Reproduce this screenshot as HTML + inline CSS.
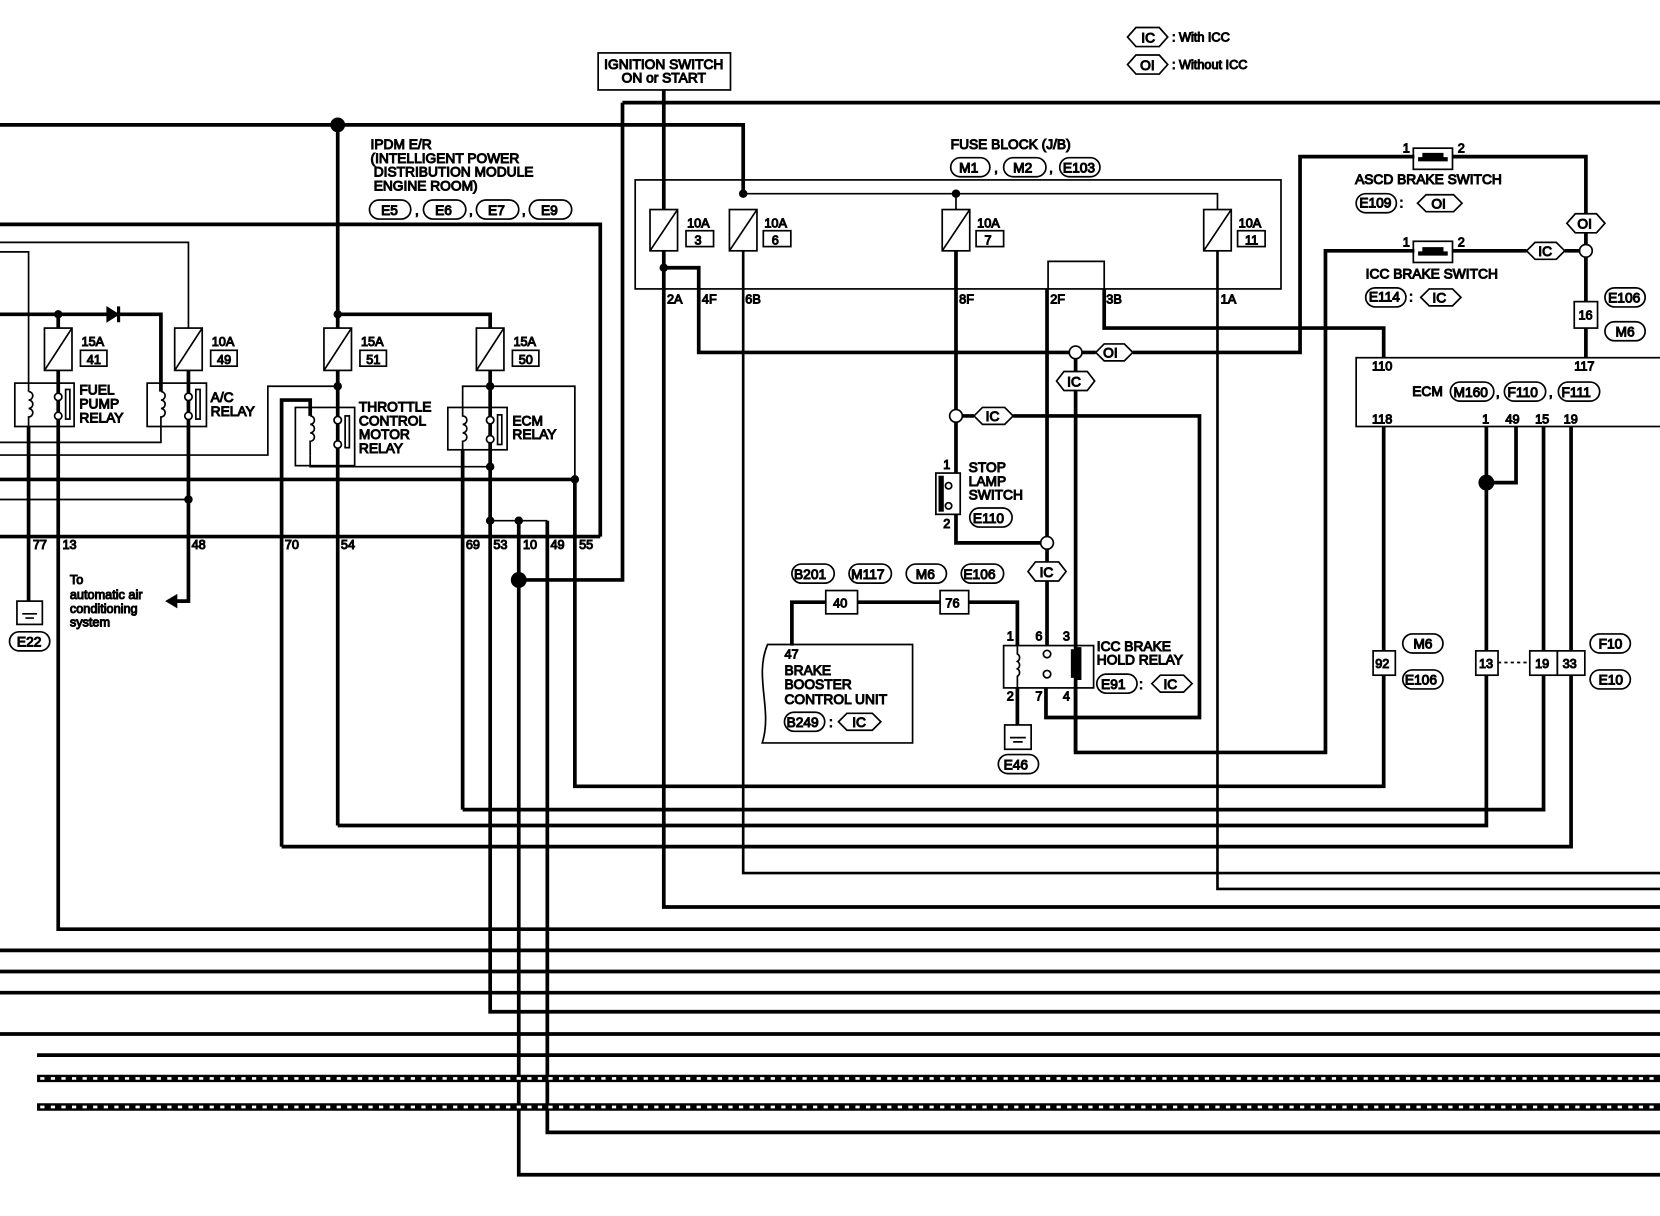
<!DOCTYPE html>
<html><head><meta charset="utf-8"><style>
html,body{margin:0;padding:0;background:#fff;}
svg{display:block;}
text{font-family:"Liberation Sans",sans-serif;font-size:13px;fill:#000;}
.sm{font-size:12px;}
</style></head><body>
<svg width="1660" height="1216" viewBox="0 0 1568 1149" preserveAspectRatio="none" xmlns="http://www.w3.org/2000/svg">
<g fill="none" stroke="#000" stroke-linejoin="miter">
<!-- thick wires -->
<g stroke-width="3.5">
<path d="M0,118 H702 V183"/>
<path d="M319,118 V310"/>
<path d="M588,97 H1568 M588,97 V548 H490"/>
<path d="M627,85 V198 M627,237 V857 H1568"/>
<path d="M627,253 H660 V333 H1010 M1022,333 H1035 M1070,333 H1228 V148 H1336 M1372,148 H1498 V202 M1498,220 V231 M1498,243 V285 M1498,310 V338"/>
<path d="M1016,339 V351 M1016,369 V711 H1252 V237 H1336 M1372,237 H1442 M1478,237 H1492"/>
<path d="M903,237 V387 M909,393 H920 M957,393 H1133 V678 H988 V650"/>
<path d="M903,399 V447 M903,486 V513 H983"/>
<path d="M989,273 V507 M989,519 V531 M989,549 V610"/>
<path d="M1043,273 V310 H1307 V338"/>
<path d="M1307,403 V615 M1307,638 V743 H543 V453"/>
<path d="M1404,403 V615 M1404,638 V780 H319"/>
<path d="M1432,403 V456 H1404"/>
<path d="M1458,403 V615 M1458,638 V765 H437"/>
<path d="M1484,403 V615 M1484,638 V800 H266"/>
<path d="M748,610 V569 H780 M810,569 H888 M915,569 H961 V610"/>
<path d="M961,650 V685"/>
<path d="M1016,650 V711"/>
<path d="M0,212 H567 V507"/>
<path d="M0,297 H152 V370"/>
<path d="M55,297 V310 M55,350 V878 H1568"/>
<path d="M27,403 V568"/>
<path d="M178,350 V568 H166"/>
<path d="M0,453 H543"/>
<path d="M319,350 V780"/>
<path d="M319,297 H463 V310 M463,350 V956 H1568"/>
<path d="M266,800 V378 H293 V393"/>
<path d="M437,425 V765"/>
<path d="M490,492 V1110 H1568 M517,492 V1070 H1568"/>
<path d="M0,898 H1568 M0,918 H1568 M0,938 H1568 M0,977 H1568 M35,997 H1568"/>
<path d="M0,507 H567"/>
</g>
<!-- dashed lines -->
<path d="M35,1019 H1568 M35,1046 H1568" stroke-width="7"/>
<path d="M38,1019 H1568 M38,1046 H1568" stroke="#fff" stroke-width="2.5" stroke-dasharray="4,6"/>
<!-- thin wires -->
<g stroke-width="1.6">
<path d="M702,183 H1150 V198 M903,183 V198"/>
<path d="M702,237 V825 H1568" stroke-width="2.5"/>
<path d="M1150,237 V840 H1568" stroke-width="2.5"/>
<path d="M990,273 V247 H1043 V273"/>
<path d="M0,229 H178 V310"/>
<path d="M0,238 H27 V370"/>
<path d="M152,403 V418 H0"/>
<path d="M0,430 H253 V365 H319"/>
<path d="M0,472 H178"/>
<path d="M437,385 V365 H543 V453"/>
<path d="M293,430 V441 H463"/>
<path d="M463,492 H517"/>
<path d="M1415,626 H1445" stroke-dasharray="3,3"/>
<rect x="600" y="170" width="610" height="103"/>
<rect x="565" y="50" width="125" height="35"/>
<rect x="1281" y="338" width="300" height="65"/>
</g>
<!-- fuses -->
<g stroke-width="1.6">
<rect x="614" y="198" width="26" height="39"/><path d="M614,237 L640,198"/>
<rect x="689" y="198" width="26" height="39"/><path d="M689,237 L715,198"/>
<rect x="890" y="198" width="26" height="39"/><path d="M890,237 L916,198"/>
<rect x="1137" y="198" width="26" height="39"/><path d="M1137,237 L1163,198"/>
<rect x="42" y="310" width="26" height="40"/><path d="M42,350 L68,310"/>
<rect x="165" y="310" width="26" height="40"/><path d="M165,350 L191,310"/>
<rect x="306" y="310" width="26" height="40"/><path d="M306,350 L332,310"/>
<rect x="450" y="310" width="26" height="40"/><path d="M450,350 L476,310"/>
<rect x="648" y="218" width="26" height="15"/>
<rect x="721" y="218" width="26" height="15"/>
<rect x="922" y="218" width="26" height="15"/>
<rect x="1169" y="218" width="26" height="15"/>
<rect x="76" y="331" width="25" height="15"/>
<rect x="199" y="331" width="25" height="15"/>
<rect x="340" y="331" width="25" height="15"/>
<rect x="484" y="331" width="25" height="15"/>
<!-- relays -->
<rect x="14" y="362" width="56" height="41"/>
<rect x="139" y="362" width="56" height="41"/>
<rect x="279" y="385" width="56" height="55"/>
<rect x="423" y="385" width="56" height="40"/>
<rect x="948" y="610" width="85" height="40"/>
<!-- coils -->
<path d="M27,370 a4,4 0 0 1 0,8 a4,4 0 0 1 0,8 a4,4 0 0 1 0,8 V403"/>
<path d="M152,370 a4,4 0 0 1 0,8 a4,4 0 0 1 0,8 a4,4 0 0 1 0,8 V403"/>
<path d="M293,393 a4,4 0 0 1 0,8 a4,4 0 0 1 0,8 a4,4 0 0 1 0,8 V430"/>
<path d="M437,385 V393 a4,4 0 0 1 0,8 a4,4 0 0 1 0,8 a4,4 0 0 1 0,8 V425"/>
<path d="M961,610 V618 a4,4 0 0 1 0,7 a4,4 0 0 1 0,7 a4,4 0 0 1 0,7 V650"/>
<path d="M55,403 V397 M55,370 V379"/>
<circle cx="55" cy="375" r="3.5" fill="#fff"/><circle cx="55" cy="393" r="3.5" fill="#fff"/><rect x="62" y="368" width="4" height="28"/>
<circle cx="178" cy="375" r="3.5" fill="#fff"/><circle cx="178" cy="393" r="3.5" fill="#fff"/><rect x="185" y="368" width="4" height="28"/>
<circle cx="319" cy="397" r="3.5" fill="#fff"/><circle cx="319" cy="420" r="3.5" fill="#fff"/><rect x="326" y="393" width="4" height="30"/>
<circle cx="463" cy="397" r="3.5" fill="#fff"/><circle cx="463" cy="415" r="3.5" fill="#fff"/><rect x="470" y="392" width="4" height="28"/>
<circle cx="989" cy="618" r="3.5" fill="#fff"/><circle cx="989" cy="637" r="3.5" fill="#fff"/>
<!-- switches -->
<rect x="1335" y="140" width="37" height="20"/>
<rect x="1335" y="228" width="37" height="20"/>
<rect x="884" y="447" width="23" height="39"/>
<circle cx="896" cy="459" r="3" fill="#fff"/><circle cx="896" cy="478" r="3" fill="#fff"/>
<!-- connector boxes -->
<rect x="1487" y="285" width="22" height="25"/>
<rect x="1297" y="615" width="21" height="23"/>
<rect x="1394" y="615" width="21" height="23"/>
<rect x="1445" y="615" width="26" height="23"/>
<rect x="1471" y="615" width="26" height="23"/>
<rect x="780" y="558" width="30" height="22"/>
<rect x="888" y="558" width="27" height="22"/>
<!-- grounds -->
<rect x="16" y="568" width="24" height="22"/>
<path d="M21,580 H35 M24,584 H32"/>
<rect x="949" y="685" width="25" height="23"/>
<path d="M954,697 H969 M957,701 H966"/>
<!-- BBCU -->
<path d="M862,609 H725 C712,640 730,670 720,702 H862 Z"/>
<!-- hollow circles -->
<circle cx="1016" cy="333" r="6" fill="#fff"/>
<circle cx="903" cy="393" r="6" fill="#fff"/>
<circle cx="989" cy="513" r="6" fill="#fff"/>
<circle cx="1498" cy="237" r="6" fill="#fff"/>
<!-- hexagons -->
<polygon points="1065,35 1073,26 1095,26 1103,35 1095,44 1073,44"/>
<polygon points="1065,61 1073,52 1095,52 1103,61 1095,70 1073,70"/>
<polygon points="1035,333 1043,325 1062,325 1070,333 1062,341 1043,341"/>
<polygon points="998,360 1005,351 1027,351 1034,360 1027,369 1005,369"/>
<polygon points="920,393 928,385 949,385 957,393 949,401 928,401"/>
<polygon points="971,540 978,531 1000,531 1007,540 1000,549 978,549"/>
<polygon points="1480,211 1488,202 1508,202 1516,211 1508,220 1488,220"/>
<polygon points="1442,237 1450,229 1470,229 1478,237 1470,245 1450,245"/>
<polygon points="1339,192 1347,184 1373,184 1381,192 1373,200 1347,200"/>
<polygon points="1342,281 1350,273 1372,273 1380,281 1372,289 1350,289"/>
<polygon points="1088,646 1096,638 1118,638 1126,646 1118,654 1096,654"/>
<polygon points="792,682 800,674 824,674 832,682 824,690 800,690"/>
<!-- ovals -->
<rect x="898" y="149" width="37" height="18" rx="9"/>
<rect x="948" y="149" width="40" height="18" rx="9"/>
<rect x="1001" y="149" width="38" height="18" rx="9"/>
<rect x="349" y="189" width="39" height="18" rx="9"/>
<rect x="400" y="189" width="40" height="18" rx="9"/>
<rect x="450" y="189" width="40" height="18" rx="9"/>
<rect x="500" y="189" width="40" height="18" rx="9"/>
<rect x="1281" y="183" width="38" height="18" rx="9"/>
<rect x="1290" y="272" width="38" height="18" rx="9"/>
<rect x="1516" y="272" width="38" height="18" rx="9"/>
<rect x="1516" y="304" width="38" height="18" rx="9"/>
<rect x="1370" y="361" width="41" height="18" rx="9"/>
<rect x="1421" y="361" width="39" height="18" rx="9"/>
<rect x="1472" y="361" width="39" height="18" rx="9"/>
<rect x="1325" y="599" width="38" height="18" rx="9"/>
<rect x="1325" y="633" width="38" height="18" rx="9"/>
<rect x="1502" y="599" width="38" height="18" rx="9"/>
<rect x="1502" y="633" width="38" height="18" rx="9"/>
<rect x="916" y="480" width="40" height="18" rx="9"/>
<rect x="748" y="533" width="40" height="18" rx="9"/>
<rect x="802" y="533" width="40" height="18" rx="9"/>
<rect x="856" y="533" width="38" height="18" rx="9"/>
<rect x="908" y="533" width="40" height="18" rx="9"/>
<rect x="741" y="673" width="38" height="18" rx="9"/>
<rect x="1036" y="637" width="38" height="18" rx="9"/>
<rect x="943" y="713" width="38" height="18" rx="9"/>
<rect x="9" y="597" width="38" height="18" rx="9"/>
</g>
<!-- filled parts -->
<g fill="#000">
<circle cx="319" cy="118" r="6.5"/>
<circle cx="702" cy="183" r="3.5"/><circle cx="903" cy="183" r="3.5"/>
<circle cx="627" cy="253" r="3.5"/>
<circle cx="55" cy="297" r="3.5"/><circle cx="319" cy="297" r="3.5"/>
<circle cx="319" cy="365" r="3.5"/><circle cx="463" cy="365" r="3.5"/>
<circle cx="463" cy="441" r="3.5"/><circle cx="543" cy="453" r="3.5"/>
<circle cx="178" cy="472" r="3.5"/><circle cx="463" cy="492" r="3.5"/><circle cx="490" cy="492" r="3.5"/>
<circle cx="490" cy="548" r="7"/><circle cx="1404" cy="456" r="7"/>
<polygon points="101,290 101,304 112,297"/><rect x="111" y="290" width="2" height="14"/>
<polygon points="157,568 167,562 167,574"/>
<path d="M1340,149 h4 v-4 h19 v4 h4 v3 h-27z"/>
<path d="M1340,238 h4 v-4 h19 v4 h4 v3 h-27z"/>
<rect x="887" y="450" width="4" height="33"/>
<path d="M1012,614 h5 v-2 h4 v30 h-4 v-2 h-5z"/>
</g>
<!-- text -->
<text x="1078" y="40">IC</text><text x="1107" y="39" class="sm">: With ICC</text>
<text x="1077" y="66">OI</text><text x="1107" y="65" class="sm">: Without ICC</text>
<text x="627" y="65" text-anchor="middle">IGNITION SWITCH</text>
<text x="627" y="78" text-anchor="middle">ON or START</text>
<text x="898" y="141">FUSE BLOCK (J/B)</text>
<text x="906" y="163">M1</text><text x="939" y="163">,</text>
<text x="957" y="163">M2</text><text x="991" y="163">,</text>
<text x="1004" y="163">E103</text>
<text x="350" y="141">IPDM E/R</text>
<text x="350" y="154">(INTELLIGENT POWER</text>
<text x="353" y="167">DISTRIBUTION MODULE</text>
<text x="353" y="180">ENGINE ROOM)</text>
<text x="360" y="203">E5</text><text x="392" y="203">,</text>
<text x="411" y="203">E6</text><text x="443" y="203">,</text>
<text x="461" y="203">E7</text><text x="493" y="203">,</text>
<text x="511" y="203">E9</text>
<text x="649" y="215" class="sm">10A</text><text x="656" y="231" class="sm">3</text>
<text x="722" y="215" class="sm">10A</text><text x="729" y="231" class="sm">6</text>
<text x="923" y="215" class="sm">10A</text><text x="930" y="231" class="sm">7</text>
<text x="1170" y="215" class="sm">10A</text><text x="1176" y="231" class="sm">11</text>
<text x="77" y="327" class="sm">15A</text><text x="82" y="344" class="sm">41</text>
<text x="200" y="327" class="sm">10A</text><text x="205" y="344" class="sm">49</text>
<text x="341" y="327" class="sm">15A</text><text x="346" y="344" class="sm">51</text>
<text x="485" y="327" class="sm">15A</text><text x="490" y="344" class="sm">50</text>
<g class="sm">
<text x="630" y="287" class="sm">2A</text><text x="663" y="287" class="sm">4F</text><text x="704" y="287" class="sm">6B</text>
<text x="906" y="287" class="sm">8F</text><text x="992" y="287" class="sm">2F</text><text x="1045" y="287" class="sm">3B</text><text x="1153" y="287" class="sm">1A</text>
</g>
<text x="1325" y="144" class="sm">1</text><text x="1377" y="144" class="sm">2</text>
<text x="1325" y="233" class="sm">1</text><text x="1377" y="233" class="sm">2</text>
<text x="1280" y="174">ASCD BRAKE SWITCH</text>
<text x="1284" y="196">E109</text><text x="1322" y="196">:</text><text x="1352" y="197">OI</text>
<text x="1290" y="263">ICC BRAKE SWITCH</text>
<text x="1293" y="285">E114</text><text x="1331" y="285">:</text><text x="1353" y="286">IC</text>
<text x="1490" y="216">OI</text>
<text x="1453" y="242">IC</text>
<text x="1491" y="302" class="sm">16</text>
<text x="1519" y="286">E106</text><text x="1526" y="318">M6</text>
<text x="1296" y="350" class="sm">110</text><text x="1487" y="350" class="sm">117</text>
<text x="1334" y="374">ECM</text>
<text x="1373" y="375">M160</text><text x="1413" y="375">,</text>
<text x="1424" y="375">F110</text><text x="1463" y="375">,</text>
<text x="1475" y="375">F111</text>
<text x="1296" y="400" class="sm">118</text><text x="1400" y="400" class="sm">1</text>
<text x="1422" y="400" class="sm">49</text><text x="1450" y="400" class="sm">15</text><text x="1477" y="400" class="sm">19</text>
<text x="1299" y="631" class="sm">92</text><text x="1397" y="631" class="sm">13</text>
<text x="1450" y="631" class="sm">19</text><text x="1476" y="631" class="sm">33</text>
<text x="1335" y="613">M6</text><text x="1327" y="647">E106</text>
<text x="1510" y="613">F10</text><text x="1510" y="647">E10</text>
<text x="1042" y="338">OI</text>
<text x="1008" y="365">IC</text>
<text x="931" y="398">IC</text>
<text x="982" y="545">IC</text>
<text x="891" y="443" class="sm">1</text><text x="891" y="499" class="sm">2</text>
<text x="915" y="446">STOP</text><text x="915" y="459">LAMP</text><text x="915" y="472">SWITCH</text>
<text x="919" y="494">E110</text>
<text x="750" y="547">B201</text><text x="804" y="547">M117</text><text x="865" y="547">M6</text><text x="910" y="547">E106</text>
<text x="787" y="574" class="sm">40</text><text x="893" y="574" class="sm">76</text>
<text x="741" y="622" class="sm">47</text>
<text x="741" y="638">BRAKE</text><text x="741" y="651">BOOSTER</text><text x="741" y="665">CONTROL UNIT</text>
<text x="743" y="687">B249</text><text x="783" y="687">:</text><text x="805" y="687">IC</text>
<text x="951" y="605" class="sm">1</text><text x="978" y="605" class="sm">6</text><text x="1004" y="605" class="sm">3</text>
<text x="951" y="662" class="sm">2</text><text x="978" y="662" class="sm">7</text><text x="1004" y="662" class="sm">4</text>
<text x="1036" y="615">ICC BRAKE</text><text x="1036" y="628">HOLD RELAY</text>
<text x="1040" y="651">E91</text><text x="1076" y="651">:</text><text x="1099" y="651">IC</text>
<text x="948" y="727">E46</text>
<text x="75" y="373">FUEL</text><text x="75" y="386">PUMP</text><text x="75" y="399">RELAY</text>
<text x="199" y="380">A/C</text><text x="199" y="393">RELAY</text>
<text x="339" y="389">THROTTLE</text><text x="339" y="402">CONTROL</text><text x="339" y="415">MOTOR</text><text x="339" y="428">RELAY</text>
<text x="484" y="402">ECM</text><text x="484" y="415">RELAY</text>
<text x="31" y="519" class="sm">77</text><text x="59" y="519" class="sm">13</text><text x="181" y="519" class="sm">48</text>
<text x="269" y="519" class="sm">70</text><text x="322" y="519" class="sm">54</text><text x="440" y="519" class="sm">69</text>
<text x="466" y="519" class="sm">53</text><text x="494" y="519" class="sm">10</text><text x="520" y="519" class="sm">49</text><text x="547" y="519" class="sm">55</text>
<text x="66" y="552" class="sm">To</text><text x="66" y="566" class="sm">automatic air</text><text x="66" y="579" class="sm">conditioning</text><text x="66" y="592" class="sm">system</text>
<text x="16" y="611">E22</text>
</svg>
</body></html>
